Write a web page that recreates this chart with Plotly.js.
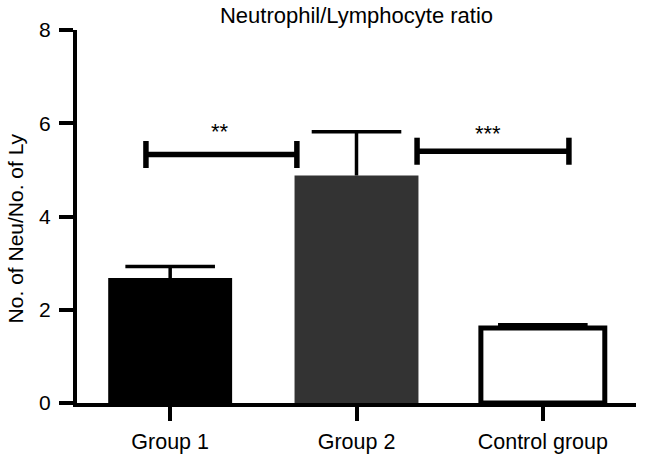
<!DOCTYPE html>
<html>
<head>
<meta charset="utf-8">
<script src="https://cdn.plot.ly/plotly-3.0.1.min.js"></script>
<style>html,body{margin:0;padding:0;background:#fff;}#chart{width:646px;height:457px;}</style>
</head>
<body>
<div id="chart"></div>
<script>
// ---- data ----
const categories = ['Group 1', 'Group 2', 'Control group'];
const ratioMeans = [2.68, 4.88, 1.61];
const ratioErrors = [0.25, 0.94, 0.07];
const sigLabels = ['**', '***'];
const sigHeights = [5.33, 5.40];
const yTickVals = [0, 2, 4, 6, 8];

// ---- styles / layout constants ----
const barFill = ['#000000', '#333333', '#ffffff'];
const barEdge = [0, 0, 5];
const bracketSpans = [[-0.13, 0.68], [1.325, 2.14]];
const starX = [0.27, 1.705];
const starOffset = [0.50, 0.38];
const capHalf = 0.29;
const FONT = '"Liberation Sans", Arial, Helvetica, sans-serif';

const barTrace = {
  type: 'bar',
  x: categories,
  y: ratioMeans,
  width: 0.665,
  marker: {color: barFill, line: {color: '#000', width: barEdge}},
  error_y: {type: 'data', symmetric: false, array: ratioErrors,
            arrayminus: ratioMeans.map(() => 0),
            color: '#000', thickness: 3.5, width: 0},
  hoverinfo: 'skip'
};

// upper caps of the one-sided error bars
const capTrace = {
  type: 'scatter', mode: 'markers',
  x: categories,
  y: ratioMeans.map((m, i) => m + ratioErrors[i]),
  marker: {symbol: 'line-ew-open', size: 64, color: '#000', line: {color: '#000', width: 3.5}},
  hoverinfo: 'skip', cliponaxis: false
};

const shapes = [];
const annotations = [];
sigLabels.forEach((lab, i) => {
  const [x0, x1] = bracketSpans[i];
  const y = sigHeights[i];
  const ln = {color: '#000', width: 5.5};
  shapes.push({type: 'line', xref: 'x', yref: 'y', x0: x0, x1: x1, y0: y, y1: y, line: ln});
  shapes.push({type: 'line', xref: 'x', yref: 'y', x0: x0, x1: x0, y0: y - capHalf, y1: y + capHalf, line: ln});
  shapes.push({type: 'line', xref: 'x', yref: 'y', x0: x1, x1: x1, y0: y - capHalf, y1: y + capHalf, line: ln});
  annotations.push({xref: 'x', yref: 'y', x: starX[i], y: y + starOffset[i], text: lab,
                    showarrow: false, font: {family: FONT, size: 22, color: '#000'},
                    xanchor: 'center', yanchor: 'middle'});
});

// y-axis title (placed as rotated text, slightly below the axis centre as in the original)
annotations.push({xref: 'paper', yref: 'paper', x: -0.111, y: 0.468, textangle: -90,
                  text: 'No. of Neu/No. of Ly', showarrow: false,
                  font: {family: FONT, size: 21, color: '#000'},
                  xanchor: 'center', yanchor: 'middle'});

const layout = {
  width: 646, height: 457,
  margin: {l: 77, r: 10, t: 29.5, b: 54},
  paper_bgcolor: '#fff', plot_bgcolor: '#fff',
  showlegend: false,
  font: {family: FONT, color: '#000'},
  title: {text: 'Neutrophil/Lymphocyte ratio', font: {family: FONT, size: 22, color: '#000'},
          x: 0.5, xref: 'paper', y: 1 - 15 / 457, yref: 'container', yanchor: 'middle'},
  xaxis: {
    type: 'category', range: [-0.5, 2.5], fixedrange: true,
    showline: true, linecolor: '#000', linewidth: 4,
    ticks: 'outside', ticklen: 14, tickwidth: 4, tickcolor: '#000',
    tickfont: {family: FONT, size: 21.5, color: '#000'},
    showgrid: false, zeroline: false, ticklabelstandoff: 2
  },
  yaxis: {
    range: [0, 8], fixedrange: true,
    tickvals: yTickVals, ticktext: yTickVals.map(String),
    showline: true, linecolor: '#000', linewidth: 4,
    ticks: 'outside', ticklen: 14, tickwidth: 4, tickcolor: '#000',
    tickfont: {family: FONT, size: 21, color: '#000'},
    showgrid: false, zeroline: false, ticklabelstandoff: 4
  },
  shapes: shapes,
  annotations: annotations
};

Plotly.newPlot('chart', [barTrace, capTrace], layout, {displayModeBar: false, staticPlot: true});
</script>
</body>
</html>
